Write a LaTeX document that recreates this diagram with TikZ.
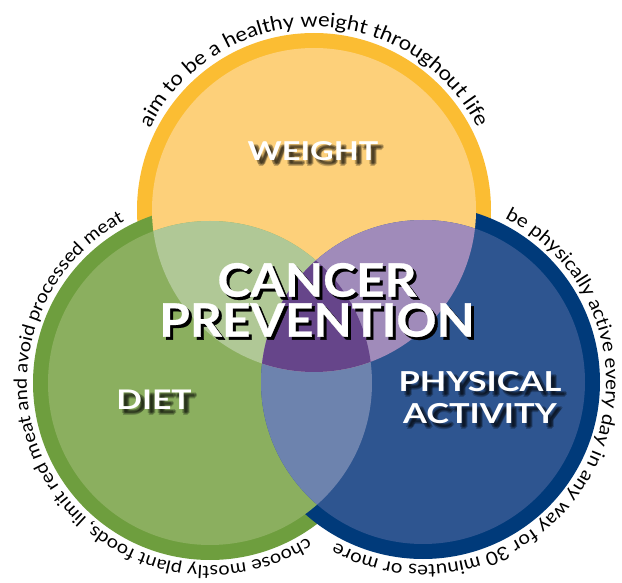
\documentclass[tikz,border=0pt]{standalone}
\usepackage{fontspec}
\setmainfont{Lato}
\newfontfamily\widefont[FakeStretch=1.25]{Lato}
\newfontfamily\titlefont[FakeStretch=1.08,FakeBold=0.6]{Lato}
\newfontfamily\arcfamily[FakeStretch=1.1]{Lato}
\usetikzlibrary{decorations.text,positioning}

\definecolor{weightring}{HTML}{FBBD33}
\definecolor{weightfill}{HTML}{FDD07A}
\definecolor{dietring}{HTML}{6E9E3E}
\definecolor{dietfill}{HTML}{8BAF5F}
\definecolor{activering}{HTML}{003A7A}
\definecolor{activefill}{HTML}{2E5590}
\definecolor{wdfill}{HTML}{B0C896}
\definecolor{wafill}{HTML}{A08BBA}
\definecolor{dafill}{HTML}{6D83AE}
\definecolor{allfill}{HTML}{66458A}

\newcommand{\arcfont}[1]{\arcfamily\fontsize{#1}{#1}\selectfont}

\begin{document}
\begin{tikzpicture}[
		x=1pt, y=1pt,
		outer/.style={radius=177},
		inner/.style={radius=162},
		title/.style={
			font=\titlefont\bfseries\fontsize{46}{40}\selectfont,
			text=white,
			align=center,
			inner sep=0pt
		},
		label/.style={
			font=\widefont\bfseries\fontsize{#1}{32}\selectfont,
			text=white,
			align=center,
			inner sep=0pt
		},
		label/.default=26,
		blur/.style={
			text=black,
			opacity=0.22
		},
		arctext/.style 2 args={
			decorate,
			decoration={
				text along path,
				text align=center,
				text={|\arcfont{#1}|#2}
			}
		}
	]
	
	\useasboundingbox (0,0) rectangle (622,582);
	
	% circle centres
	\coordinate (wc) at (314,372);
	\coordinate (dc) at (210,199);
	\coordinate (ac) at (423,200);
	
	% rings
	\fill[weightring] (wc) circle[outer];
	\fill[dietring] (dc) circle[outer];
	\fill[activering] (ac) circle[outer];
	
	% discs
	\fill[weightfill] (wc) circle[inner];
	\fill[dietfill] (dc) circle[inner];
	\fill[activefill] (ac) circle[inner];
	
	% overlaps
	\begin{scope}
		\clip (dc) circle[inner];
		\fill[dafill] (ac) circle[inner];
	\end{scope}
	\begin{scope}
		\clip (wc) circle[inner];
		\fill[wdfill] (dc) circle[inner];
		\fill[wafill] (ac) circle[inner];
		\clip (dc) circle[inner];
		\fill[allfill] (ac) circle[inner];
	\end{scope}
	
	% texts round the circles
	\path[arctext={20}{aim to be a healthy weight throughout life}]
		(wc) ++(178:183) arc[start angle=178, end angle=2, radius=183];
	\path[arctext={18}{choose mostly plant foods, limit red meat and avoid processed meat}]
		(dc) ++(-10:183) arc[start angle=-10, end angle=-290, radius=183];
	\path[arctext={18.6}{be physically active every day in any way for 30 minutes or more}]
		(ac) ++(110:183) arc[start angle=110, end angle=-165, radius=183];
	
	% labels
	\foreach \dx/\dy in {3/-4, 5/-5, 4/-6, 6/-4, 5/-3}{
		\node[label, blur, xshift=\dx, yshift=\dy] at (313,431) {WEIGHT};
		\node[label=27, blur, xshift=\dx, yshift=\dy] at (154,182) {DIET};
		\node[label=27.5, blur, xshift=\dx, yshift=\dy] at (480,184) {PHYSICAL\\ACTIVITY};
	}
	\node[label] (weight) at (313,431) {WEIGHT};
	\node[label=27] (diet) at (154,182) {DIET};
	\node[label=27.5] (active) at (480,184) {PHYSICAL\\ACTIVITY};
	
	\node[title, text=black] (cancershadow) at (320,279) {CANCER\\PREVENTION};
	\node[title] (cancer) at (317,282) {CANCER\\PREVENTION};
	
\end{tikzpicture}
\end{document}
